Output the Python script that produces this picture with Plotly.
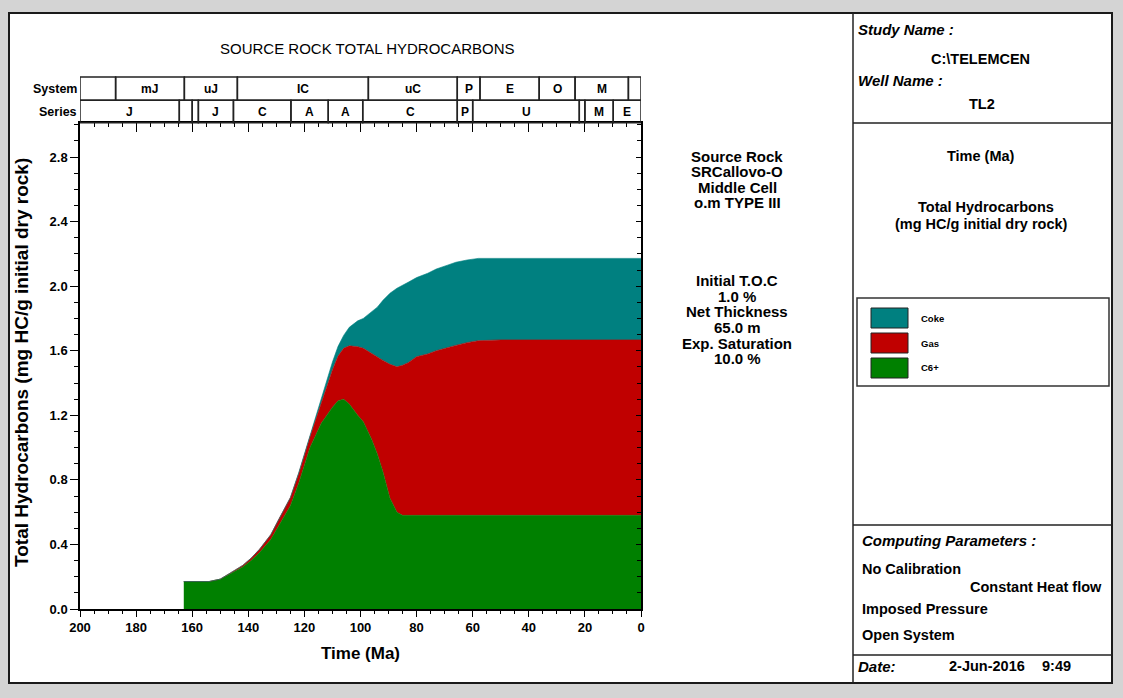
import plotly.graph_objects as go

# ---------------- data ----------------
# Time (Ma) sampling of the source-rock cumulative curves
time_ma = [163, 154, 150, 146, 142, 139, 136, 132, 129, 125, 122, 118, 114, 110,
           108, 106, 104, 101, 99, 96, 94, 92, 89.5, 87, 85, 83, 80, 76, 73, 69,
           66, 62, 58, 50, 40, 30, 20, 10, 0]

# C6+ (mg HC/g initial dry rock)
c6_plus = [0.17, 0.17, 0.185, 0.22, 0.26, 0.30, 0.35, 0.43, 0.52, 0.64, 0.78, 1.00,
           1.15, 1.25, 1.29, 1.30, 1.27, 1.20, 1.16, 1.05, 0.96, 0.85, 0.686, 0.60,
           0.58, 0.58, 0.58, 0.58, 0.58, 0.58, 0.58, 0.58, 0.58, 0.58, 0.58, 0.58,
           0.58, 0.58, 0.58]

# Gas (stacked on C6+)
gas = [0.0, 0.0, 0.0, 0.005, 0.01, 0.015, 0.02, 0.03, 0.04, 0.05, 0.06, 0.067,
       0.12, 0.23, 0.277, 0.315, 0.36, 0.425, 0.455, 0.534, 0.60, 0.69, 0.83, 0.90,
       0.93, 0.946, 0.983, 1.0, 1.02, 1.04, 1.053, 1.07, 1.082, 1.087, 1.087, 1.087,
       1.087, 1.087, 1.087]

# Coke (stacked on Gas)
coke = [0.0, 0.0, 0.0, 0.0, 0.0, 0.0, 0.0, 0.0, 0.0, 0.0, 0.005, 0.015, 0.03, 0.05,
        0.06, 0.08, 0.115, 0.16, 0.185, 0.258, 0.31, 0.372, 0.44, 0.487, 0.497, 0.498,
        0.49, 0.50, 0.506, 0.51, 0.515, 0.512, 0.51, 0.505, 0.505, 0.505, 0.505,
        0.505, 0.505]

# Chronostratigraphic header (age boundaries in Ma)
system_edges = [200, 187.3, 162.8, 143.9, 97.2, 65.5, 57.4, 36.3, 23.5, 4.5, 0]
system_names = ["", "mJ", "uJ", "IC", "uC", "P", "E", "O", "M", ""]
series_edges = [200, 164.6, 160, 157.8, 145.3, 124.8, 111.5, 99.2, 65.5, 60, 22, 20, 9.9, 0]
series_names = ["J", "", "", "J", "C", "A", "A", "C", "P", "U", "", "M", "E"]

x_ticks = list(range(0, 201, 20))
y_ticks = [0.0, 0.4, 0.8, 1.2, 1.6, 2.0, 2.4, 2.8]

COLOR_C6 = "#008000"
COLOR_GAS = "#c00000"
COLOR_COKE = "#008080"

W, H = 1123, 698
FONT = "Arial, Liberation Sans, sans-serif"


def px(x):
    return x / W


def py(y):
    return 1 - y / H


Y_MAX = 3.0125

fig = go.Figure()
for name, vals, col in [("C6+", c6_plus, COLOR_C6), ("Gas", gas, COLOR_GAS),
                        ("Coke", coke, COLOR_COKE)]:
    fig.add_trace(go.Scatter(x=time_ma, y=vals, name=name, stackgroup="hc",
                             mode="lines", line=dict(width=0.6, color=col),
                             fillcolor=col, showlegend=False, hoverinfo="skip"))

# helper trace so the mirrored tick axes are drawn
fig.add_trace(go.Scatter(x=[None], y=[None], xaxis="x2", yaxis="y2",
                         showlegend=False, hoverinfo="skip"))

shapes = []
annotations = []


def rect(x0, y0, x1, y1, lw=1.5, color="#222222", fill=None, layer="above"):
    shapes.append(dict(type="rect", xref="paper", yref="paper",
                       x0=px(x0), x1=px(x1), y0=py(y0), y1=py(y1),
                       line=dict(width=lw, color=color),
                       fillcolor=fill if fill else "rgba(0,0,0,0)", layer=layer))


def hline(x0, x1, y, lw=1.5):
    shapes.append(dict(type="line", xref="paper", yref="paper",
                       x0=px(x0), x1=px(x1), y0=py(y), y1=py(y),
                       line=dict(width=lw, color="#222222")))


def vline(x, y0, y1, lw=1.5):
    shapes.append(dict(type="line", xref="paper", yref="paper",
                       x0=px(x), x1=px(x), y0=py(y0), y1=py(y1),
                       line=dict(width=lw, color="#222222")))


def text(s, x, y, size=14.5, anchor="center", bold=True, italic=False, angle=0):
    annotations.append(dict(text=s, x=px(x), y=py(y), xref="paper", yref="paper",
                            xanchor=anchor, yanchor="middle", showarrow=False,
                            textangle=angle,
                            font=dict(family=FONT, size=size, color="black",
                                      weight="bold" if bold else "normal",
                                      style="italic" if italic else "normal")))


# page
rect(9, 13, 1112, 683, lw=2, color="#1a1a1a", fill="white", layer="below")
vline(853, 13, 683)
hline(853, 1112, 123)
hline(853, 1112, 525)
hline(853, 1112, 655)

# title and axis titles
text("SOURCE ROCK TOTAL HYDROCARBONS", 367, 49, size=15, bold=False)
text("Total Hydrocarbons (mg HC/g initial dry rock)", 21, 363, size=19, angle=-90)
text("Time (Ma)", 361, 653, size=17)

# chronostratigraphic header
ROW_TOP, ROW_MID, ROW_BOT = 77, 100.3, 122.7
for edges, names, y0, y1 in [(system_edges, system_names, ROW_TOP, ROW_MID),
                             (series_edges, series_names, ROW_MID, ROW_BOT)]:
    for i, nm in enumerate(names):
        a, b = edges[i], edges[i + 1]
        shapes.append(dict(type="rect", xref="x", yref="paper", x0=a, x1=b,
                           y0=py(y1), y1=py(y0),
                           line=dict(width=1.5, color="#222222")))
        if nm:
            annotations.append(dict(text=nm, x=(a + b) / 2, y=py((y0 + y1) / 2),
                                    xref="x", yref="paper", showarrow=False,
                                    xanchor="center", yanchor="middle",
                                    font=dict(family=FONT, size=12, color="black",
                                              weight="bold")))
text("System", 79, 89, size=12.5, anchor="right")
text("Series", 79, 112, size=12.5, anchor="right")

# source rock description
for s, y in [("Source Rock", 156), ("SRCallovo-O", 172), ("Middle Cell", 187.5),
             ("o.m TYPE III", 202.5), ("Initial T.O.C", 280), ("1.0 %", 296),
             ("Net Thickness", 311.5), ("65.0 m", 327.5), ("Exp. Saturation", 343),
             ("10.0 %", 358.5)]:
    text(s, 737, y, size=15)

# right panel
text("Study Name :", 856, 29, size=15, anchor="left", italic=True)
text("C:\\TELEMCEN", 980, 59, size=14.5)
text("Well Name :", 856, 80, size=15, anchor="left", italic=True)
text("TL2", 982, 104, size=14.5)
text("Time (Ma)", 981, 156, size=14.5)
text("Total Hydrocarbons", 986, 207, size=14.5)
text("(mg HC/g initial dry rock)", 981, 224, size=14.5)

# legend box
rect(857, 298, 1109, 386, lw=1.5, color="#333333")
for label, col, y0, y1 in [("Coke", COLOR_COKE, 308, 328), ("Gas", COLOR_GAS, 333, 353),
                           ("C6+", COLOR_C6, 358, 378)]:
    rect(871, y0, 908, y1, lw=1, color="#222222", fill=col)
    text(label, 919, (y0 + y1) / 2, size=9.5, anchor="left")

text("Computing Parameters :", 860, 540, size=15, anchor="left", italic=True)
text("No Calibration", 860, 569, anchor="left")
text("Constant Heat flow", 1104, 587, anchor="right")
text("Imposed Pressure", 860, 609, anchor="left")
text("Open System", 860, 635, anchor="left")
text("Date:", 856, 666, size=15, anchor="left", italic=True)
text("2-Jun-2016", 947, 666, anchor="left")
text("9:49", 1073, 666, anchor="right")

tickfont = dict(family=FONT, size=13, color="black", weight="bold")
x_dom = [px(80), px(641)]
y_dom = [py(609), py(ROW_BOT)]

fig.update_layout(
    width=W, height=H, autosize=False,
    margin=dict(l=0, r=0, t=0, b=0, pad=0),
    paper_bgcolor="#d4d4d4",
    plot_bgcolor="white",
    showlegend=False,
    shapes=shapes,
    annotations=annotations,
    xaxis=dict(domain=x_dom, range=[200, 0], tickmode="array", tickvals=x_ticks,
               ticks="outside", ticklen=6, tickwidth=1.2, tickcolor="black",
               minor=dict(dtick=5, tick0=0, ticks="outside", ticklen=3.5,
                          tickcolor="black", tickwidth=1.2, showgrid=False),
               showline=True, linecolor="black", linewidth=1.5, mirror=True,
               showgrid=False, zeroline=False, tickfont=tickfont, anchor="y",
               automargin=False),
    yaxis=dict(domain=y_dom, range=[0, Y_MAX], tickmode="array", tickvals=y_ticks,
               tickformat=".1f", ticks="outside", ticklen=8, tickwidth=1.2,
               tickcolor="black",
               minor=dict(dtick=0.1, tick0=0, ticks="outside", ticklen=4,
                          tickcolor="black", tickwidth=1.2, showgrid=False),
               showline=True, linecolor="black", linewidth=1.5, mirror=True,
               showgrid=False, zeroline=False, tickfont=tickfont, anchor="x",
               automargin=False),
    xaxis2=dict(overlaying="x", side="top", anchor="y2", range=[200, 0],
                tickmode="array", tickvals=x_ticks, ticks="inside", ticklen=9,
                tickwidth=1.2, tickcolor="black",
                minor=dict(dtick=5, tick0=0, ticks="inside", ticklen=4,
                           tickcolor="black", tickwidth=1.2, showgrid=False),
                showticklabels=False, showgrid=False, zeroline=False, showline=False,
                automargin=False),
    yaxis2=dict(overlaying="y", side="right", anchor="x2", range=[0, Y_MAX],
                tickmode="array", tickvals=y_ticks, ticks="inside", ticklen=5,
                tickwidth=1.2, tickcolor="black",
                minor=dict(dtick=0.1, tick0=0, ticks="inside", ticklen=4,
                           tickcolor="black", tickwidth=1.2, showgrid=False),
                showticklabels=False, showgrid=False, zeroline=False, showline=False,
                automargin=False),
)

fig.write_html(
    "out.html",
    config={"displayModeBar": False, "responsive": False},
    post_script="document.body.style.margin='0';"
                "document.documentElement.style.overflow='hidden';",
)
